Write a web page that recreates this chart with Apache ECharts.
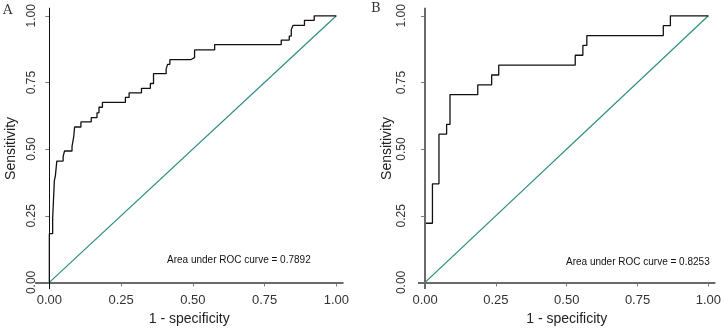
<!DOCTYPE html>
<html lang="en">
<head>
  <meta charset="utf-8">
  <style>
    html, body { margin: 0; padding: 0; background: #fff; }
    #container { width: 724px; height: 331px; }
  </style>
</head>
<body>
  <div id="container"></div>
  <script src="https://cdn.jsdelivr.net/npm/echarts@6/dist/echarts.min.js"></script>
  <script>
    // ROC corner points: fpr where a jump happens, tpr after the jump
    var fprA = [0, 0, 0.0115, 0.0174, 0.021, 0.026, 0.048, 0.053, 0.079, 0.085, 0.088, 0.110, 0.146, 0.166, 0.173, 0.185,
                0.265, 0.278, 0.321, 0.352, 0.363, 0.407, 0.412, 0.420, 0.494, 0.506, 0.576, 0.808, 0.836, 0.843, 0.849,
                0.889, 0.923, 1.0];
    var tprA = [0, 0.183, 0.238, 0.381, 0.40, 0.455, 0.473, 0.493, 0.51, 0.547, 0.583, 0.602, 0.618, 0.636, 0.657, 0.675,
                0.694, 0.711, 0.728, 0.746, 0.783, 0.801, 0.818, 0.836, 0.843, 0.872, 0.892, 0.909, 0.924, 0.949, 0.964,
                0.983, 1.0, 1.0];
    var fprB = [0, 0, 0.026, 0.049, 0.076, 0.088, 0.186, 0.235, 0.260, 0.530, 0.557, 0.571, 0.841, 0.866, 1.0];
    var tprB = [0, 0.222, 0.370, 0.556, 0.593, 0.704, 0.741, 0.778, 0.815, 0.852, 0.889, 0.926, 0.963, 1.0, 1.0];
    var diagonal = [[0, 0], [1, 1]];
    var ticks = [0, 0.25, 0.5, 0.75, 1];
    var panelNames = ['A', 'B'];
    var aucText = ['Area under ROC curve = 0.7892', 'Area under ROC curve = 0.8253'];

    var FONT = 'Liberation Sans, Arial, sans-serif';
    var chart = echarts.init(document.getElementById('container'), null, { renderer: 'canvas' });

    function pairs(xs, ys) {
      return xs.map(function (x, i) { return [x, ys[i]]; });
    }

    function xAxisFor(idx, min) {
      return {
        type: 'value', gridIndex: idx, min: min, max: 1.025,
        axisLine: { show: false },
        splitLine: { show: false },
        axisTick: { show: true, customValues: ticks, length: 4, lineStyle: { color: '#777' } },
        axisLabel: {
          customValues: ticks, margin: 5, color: '#333', fontSize: 13, fontFamily: FONT,
          formatter: function (v) { return v.toFixed(2); }
        },
        name: '1 - specificity', nameLocation: 'middle', nameGap: 22,
        nameTextStyle: { fontSize: 14, color: '#222', fontFamily: FONT }
      };
    }

    function yAxisFor(idx, offset, margin, nameGap) {
      return {
        type: 'value', gridIndex: idx, min: -0.025, max: 1.03, offset: offset,
        axisLine: { show: false },
        splitLine: { show: false },
        axisTick: { show: true, customValues: ticks, length: 4, lineStyle: { color: '#777' } },
        axisLabel: {
          customValues: ticks, margin: margin, rotate: 90, color: '#333', fontSize: 12, fontFamily: FONT,
          formatter: function (v) { return v.toFixed(2); }
        },
        name: 'Sensitivity', nameLocation: 'middle', nameGap: nameGap,
        nameTextStyle: { fontSize: 14, color: '#222', fontFamily: FONT }
      };
    }

    function rocSeries(idx, data) {
      return {
        type: 'line', xAxisIndex: idx, yAxisIndex: idx, step: 'end',
        data: data, symbol: 'none', silent: true,
        lineStyle: { color: '#111', width: 1.3 }
      };
    }

    function diagSeries(idx, yAxisStyle) {
      return {
        type: 'line', xAxisIndex: idx, yAxisIndex: idx,
        data: diagonal, symbol: 'none', silent: true, z: 1,
        lineStyle: { color: '#2b8c7f', width: 1.2 },
        markLine: {
          silent: true, symbol: 'none', label: { show: false },
          data: [
            { yAxis: 0, lineStyle: { color: '#6a6a6a', width: 2, type: 'solid' } },
            { xAxis: 0, lineStyle: yAxisStyle }
          ]
        }
      };
    }

    var option = {
      animation: false,
      grid: [
        { left: 35, top: 7.8, width: 308.5, height: 287 },
        { left: 418, top: 7.8, width: 300.3, height: 287 }
      ],
      xAxis: [xAxisFor(0, -0.05), xAxisFor(1, -0.025)],
      yAxis: [yAxisFor(0, -6, 3, 23), yAxisFor(1, 3, 7, 21)],
      series: [
        diagSeries(0, { color: '#111', width: 1, type: 'solid' }),
        rocSeries(0, pairs(fprA, tprA)),
        diagSeries(1, { color: '#6a6a6a', width: 2, type: 'solid' }),
        rocSeries(1, pairs(fprB, tprB))
      ],
      graphic: [
        { type: 'text', left: 3, top: 4, style: { text: panelNames[0], font: '13px "DejaVu Serif", serif', fill: '#333' } },
        { type: 'text', left: 371, top: 2, style: { text: panelNames[1], font: '13px "DejaVu Serif", serif', fill: '#333' } },
        { type: 'text', left: 167, top: 255, style: { text: aucText[0], font: '10px ' + FONT, fill: '#111' } },
        { type: 'text', left: 566, top: 257, style: { text: aucText[1], font: '10px ' + FONT, fill: '#111' } }
      ]
    };

    chart.setOption(option);
  </script>
</body>
</html>
